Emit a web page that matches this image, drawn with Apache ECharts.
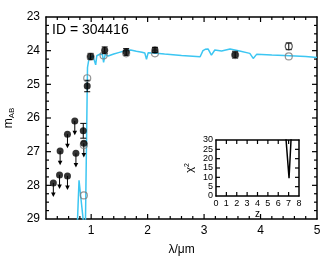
<!DOCTYPE html>
<html><head><meta charset="utf-8">
<script src="https://cdn.jsdelivr.net/npm/echarts@6/dist/echarts.min.js"></script>
<style>html,body{margin:0;padding:0;background:#fff}#c{width:333px;height:266px}</style>
</head><body><div id="c"></div>
<script>
// ---- data ----
const sedWavelength = [0.745, 0.785, 0.895, 0.925, 0.935, 0.96, 0.99, 1.03, 1.06, 1.08, 1.10, 1.16, 1.20, 1.22, 1.25, 1.30, 1.40, 1.50, 1.60, 1.70, 1.80, 1.90, 1.95, 1.98, 2.01, 2.10, 2.30, 2.60, 2.93, 2.98, 3.02, 3.07, 3.13, 3.19, 3.31, 3.46, 3.63, 3.81, 3.87, 3.93, 4.20, 4.52, 4.80, 5.00];
const sedMag = [29.6, 27.85, 29.6, 29.6, 24.5, 24.25, 24.2, 24.15, 24.12, 24.42, 24.15, 24.1, 24.12, 24.35, 24.1, 24.16, 24.1, 24.05, 24.0, 23.98, 24.02, 24.05, 24.07, 24.26, 24.06, 24.07, 24.1, 24.14, 24.18, 24.0, 23.96, 23.95, 24.13, 23.98, 24.01, 23.95, 24.01, 24.08, 24.23, 24.11, 24.13, 24.15, 24.17, 24.2];

const detWavelength = [0.86, 0.93, 0.99, 1.24, 1.62, 2.13, 3.55];
const detMag = [26.38, 25.05, 24.17, 23.99, 24.04, 23.98, 24.12];
const detErr = [0.22, 0.17, 0.09, 0.10, 0.10, 0.08, 0.10];

const limWavelength = [0.33, 0.44, 0.45, 0.58, 0.58, 0.71, 0.73, 0.87];
const limMag = [27.93, 27.69, 26.98, 27.72, 26.48, 26.09, 27.05, 26.75];

const openWavelength = [4.5];
const openMag = [23.87];
const openErr = [0.10];

const modelWavelength = [0.87, 0.87, 0.93, 0.99, 1.22, 1.62, 2.13, 3.55, 4.5];
const modelMag = [28.3, 26.8, 24.82, 24.18, 24.14, 24.08, 24.08, 24.13, 24.17];

const chiZ = [6.74, 7.04, 7.24];
const chiVal = [31, 9.5, 31];

const xTickLabels = [1, 2, 3, 4, 5];
const yTickLabels = [23, 24, 25, 26, 27, 28, 29];
const zTickLabels = [0, 1, 2, 3, 4, 5, 6, 7, 8];
const chiTickLabels = [0, 5, 10, 15, 20, 25, 30];

// ---- chart ----
const FONT = 'Liberation Sans, Arial, sans-serif';
const zip2 = (a, b) => a.map((v, i) => [v, b[i]]);
const zip3 = (a, b, c) => a.map((v, i) => [v, b[i], c[i]]);

const X_MIN = 0.2, X_MAX = 5;
const Y_TOP = yTickLabels[0], Y_BOT = yTickLabels[yTickLabels.length - 1];
const Z_MIN = zTickLabels[0], Z_MAX = zTickLabels[zTickLabels.length - 1];
const C_MIN = chiTickLabels[0], C_MAX = chiTickLabels[chiTickLabels.length - 1];

function errRender(params, api) {
  const x = api.value(0), y = api.value(1), e = api.value(2);
  const t = api.coord([x, y - e]), b = api.coord([x, y + e]);
  const w = 3;
  return {type: 'group', children: [
    {type: 'line', shape: {x1: t[0], y1: t[1], x2: b[0], y2: b[1]}, style: {stroke: '#000', lineWidth: 1}},
    {type: 'line', shape: {x1: t[0] - w, y1: t[1], x2: t[0] + w, y2: t[1]}, style: {stroke: '#000', lineWidth: 1}},
    {type: 'line', shape: {x1: b[0] - w, y1: b[1], x2: b[0] + w, y2: b[1]}, style: {stroke: '#000', lineWidth: 1}}
  ]};
}
const ARROW = 0.42;
function arrowRender(params, api) {
  const x = api.value(0), y = api.value(1);
  const p = api.coord([x, y]), q = api.coord([x, y + ARROW]);
  return {type: 'group', children: [
    {type: 'line', shape: {x1: p[0], y1: p[1], x2: q[0], y2: q[1] - 3}, style: {stroke: '#000', lineWidth: 1}},
    {type: 'polygon', shape: {points: [[q[0] - 2.3, q[1] - 4.5], [q[0] + 2.3, q[1] - 4.5], [q[0], q[1]]]}, style: {fill: '#000'}}
  ]};
}

// inward tick marks on all four sides, placed through the axes' scales (filled thin rects)
const TW = 1.2;
function xTickRender(yLo, yHi, majLen, minLen) {
  return function (params, api) {
    const v = api.value(0), len = api.value(2) ? majLen : minLen;
    const b = api.coord([v, yLo]), t = api.coord([v, yHi]);
    return {type: 'group', children: [
      {type: 'rect', shape: {x: b[0] - TW / 2, y: b[1] - len, width: TW, height: len}, style: {fill: '#000'}},
      {type: 'rect', shape: {x: t[0] - TW / 2, y: t[1], width: TW, height: len}, style: {fill: '#000'}}
    ]};
  };
}
function yTickRender(xLo, xHi, majLen, minLen) {
  return function (params, api) {
    const v = api.value(1), len = api.value(2) ? majLen : minLen;
    const l = api.coord([xLo, v]), r = api.coord([xHi, v]);
    return {type: 'group', children: [
      {type: 'rect', shape: {x: l[0], y: l[1] - TW / 2, width: len, height: TW}, style: {fill: '#000'}},
      {type: 'rect', shape: {x: r[0] - len, y: r[1] - TW / 2, width: len, height: TW}, style: {fill: '#000'}}
    ]};
  };
}
const mainXTicks = [];
for (let k = 2; k < 25; k++) { const v = k / 5; mainXTicks.push([v, Y_BOT, Number.isInteger(v) ? 1 : 0]); }
const mainYTicks = [];
for (let k = 1; k < 24; k++) { const v = Y_TOP + k / 4; mainYTicks.push([X_MIN, v, Number.isInteger(v) ? 1 : 0]); }
const insXTicks = zTickLabels.slice(1, -1).map(v => [v, C_MIN, 1]);
const insYTicks = chiTickLabels.slice(1, -1).map(v => [Z_MIN, v, 1]);

const G0 = {left: 46, top: 17, width: 271, height: 202};
const G1 = {left: 216, top: 140, width: 83, height: 56};
const frameLine = (w) => ({show: true, onZero: false, lineStyle: {color: '#000', width: w}});
const noTick = {show: false};
const noLabel = {show: false};
const noSplit = {show: false};
function ax(base, extra) { return Object.assign({type: 'value', splitLine: noSplit, axisTick: noTick, minorTick: {show: false}}, base, extra); }

const mainXBase = {gridIndex: 0, min: X_MIN, max: X_MAX};
const mainYBase = {gridIndex: 0, min: Y_TOP, max: Y_BOT, interval: 1, inverse: true};
const insXBase = {gridIndex: 1, min: Z_MIN, max: Z_MAX, interval: 1};
const insYBase = {gridIndex: 1, min: C_MIN, max: C_MAX, interval: 5};

const tickSeries = (xi, yi, render, data) => ({
  type: 'custom', xAxisIndex: xi, yAxisIndex: yi, renderItem: render, data: data,
  encode: {x: 0, y: 1}, clip: false, silent: true, z: 10
});

const option = {
  animation: false,
  textStyle: {fontFamily: FONT},
  grid: [
    Object.assign({outerBoundsMode: 'none', containLabel: false}, G0),
    Object.assign({outerBoundsMode: 'none', containLabel: false}, G1)
  ],
  graphic: [
    {type: 'rect', z: -1, shape: {x: G1.left, y: G1.top, width: G1.width, height: G1.height}, style: {fill: '#fff'}},
    {type: 'text', left: 52, top: 23,
      style: {text: 'ID = 304416', fontSize: 14, fontFamily: FONT, fill: '#000'}}
  ],
  xAxis: [
    ax(mainXBase, {position: 'bottom', axisLine: frameLine(1.5),
      axisLabel: {show: true, fontSize: 12, color: '#000', margin: 6, showMinLabel: false,
        formatter: v => xTickLabels.includes(Math.round(v * 1000) / 1000) ? String(v) : ''},
      name: 'λ/μm', nameLocation: 'middle', nameGap: 25, nameTextStyle: {fontSize: 12, color: '#000'}}),
    ax(mainXBase, {position: 'top', axisLine: frameLine(1.5), axisLabel: noLabel}),
    ax(insXBase, {position: 'bottom', axisLine: frameLine(1.5),
      axisLabel: {show: true, fontSize: 9, color: '#000', margin: 3},
      name: 'z', nameLocation: 'middle', nameGap: 10, nameTextStyle: {fontSize: 10, color: '#000'}}),
    ax(insXBase, {position: 'top', axisLine: frameLine(1.5), axisLabel: noLabel})
  ],
  yAxis: [
    ax(mainYBase, {position: 'left', axisLine: frameLine(1.5),
      axisLabel: {show: true, fontSize: 12, color: '#000', margin: 6},
      name: 'm{s|AB}', nameLocation: 'middle', nameGap: 27,
      nameTextStyle: {fontSize: 12, color: '#000', rich: {s: {fontSize: 8, verticalAlign: 'bottom', padding: [7, 0, 0, 0]}}}}),
    ax(mainYBase, {position: 'right', axisLine: frameLine(1.5), axisLabel: noLabel}),
    ax(insYBase, {position: 'left', axisLine: frameLine(1.5),
      axisLabel: {show: true, fontSize: 9, color: '#000', margin: 3},
      name: 'χ{p|2}', nameLocation: 'middle', nameGap: 20,
      nameTextStyle: {fontSize: 11, color: '#000', rich: {p: {fontSize: 7, verticalAlign: 'top', padding: [0, 0, 5, 0]}}}}),
    ax(insYBase, {position: 'right', axisLine: frameLine(1.5), axisLabel: noLabel})
  ],
  series: [
    tickSeries(0, 0, xTickRender(Y_BOT, Y_TOP, 5, 3), mainXTicks),
    tickSeries(0, 0, yTickRender(X_MIN, X_MAX, 5, 3), mainYTicks),
    tickSeries(2, 2, xTickRender(C_MIN, C_MAX, 4, 4), insXTicks),
    tickSeries(2, 2, yTickRender(Z_MIN, Z_MAX, 4, 4), insYTicks),
    {type: 'line', xAxisIndex: 0, yAxisIndex: 0, data: zip2(sedWavelength, sedMag), showSymbol: false,
      lineStyle: {color: '#3cc6f2', width: 1.5}, z: 1},
    {type: 'custom', xAxisIndex: 0, yAxisIndex: 0, renderItem: errRender, data: zip3(detWavelength, detMag, detErr), z: 3},
    {type: 'custom', xAxisIndex: 0, yAxisIndex: 0, renderItem: errRender, data: zip3(openWavelength, openMag, openErr), z: 3},
    {type: 'custom', xAxisIndex: 0, yAxisIndex: 0, renderItem: arrowRender, data: zip2(limWavelength, limMag), z: 3},
    {type: 'scatter', xAxisIndex: 0, yAxisIndex: 0, data: zip2(modelWavelength, modelMag), symbol: 'circle', symbolSize: 7,
      itemStyle: {color: 'rgba(255,255,255,0)', borderColor: '#7a7a7a', borderWidth: 1.2}, z: 4},
    {type: 'scatter', xAxisIndex: 0, yAxisIndex: 0, data: zip2(detWavelength, detMag), symbol: 'circle', symbolSize: 7,
      itemStyle: {color: '#000'}, z: 5},
    {type: 'scatter', xAxisIndex: 0, yAxisIndex: 0, data: zip2(limWavelength, limMag), symbol: 'circle', symbolSize: 7,
      itemStyle: {color: '#000'}, z: 5},
    {type: 'scatter', xAxisIndex: 0, yAxisIndex: 0, data: zip2(openWavelength, openMag), symbol: 'circle', symbolSize: 7,
      itemStyle: {color: 'rgba(255,255,255,0)', borderColor: '#333', borderWidth: 1.2}, z: 5},
    {type: 'line', xAxisIndex: 2, yAxisIndex: 2, data: zip2(chiZ, chiVal), showSymbol: false,
      lineStyle: {color: '#000', width: 1.5}, z: 6}
  ]
};
const chart = echarts.init(document.getElementById('c'), null, {renderer: 'canvas'});
chart.setOption(option);
</script></body></html>
